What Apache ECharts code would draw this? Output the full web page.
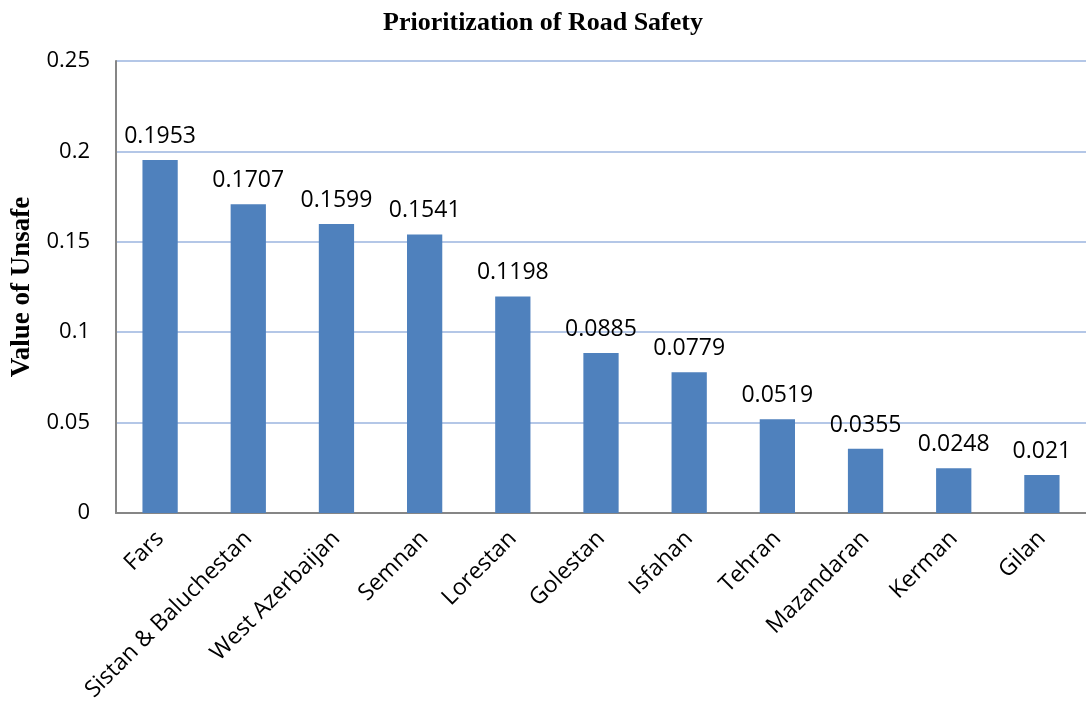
<!DOCTYPE html>
<html><head><meta charset="utf-8">
<script src="https://cdn.jsdelivr.net/npm/echarts@6/dist/echarts.min.js"></script>
<style>html,body{margin:0;padding:0;background:#fff}#c{width:1086px;height:707px}</style>
</head><body><div id="c"></div>
<script>
const categories = ['Fars','Sistan & Baluchestan','West Azerbaijan','Semnan','Lorestan','Golestan','Isfahan','Tehran','Mazandaran','Kerman','Gilan'];
const values = [0.1953,0.1707,0.1599,0.1541,0.1198,0.0885,0.0779,0.0519,0.0355,0.0248,0.021];
const yTicks = [0,0.05,0.1,0.15,0.2,0.25];
const chart = echarts.init(document.getElementById('c'));
chart.setOption({
  animation:false,
  title:{text:'Prioritization of Road Safety',left:'center',top:5,textStyle:{fontFamily:'Liberation Serif',fontWeight:'bold',fontSize:26,color:'#000'}},
  grid:{left:116,right:0,top:61,bottom:194},
  xAxis:{type:'category',data:categories,
    axisLine:{lineStyle:{color:'#868686',width:2}},axisTick:{show:false},
    axisLabel:{rotate:45,interval:0,margin:22,fontFamily:'Open Sans',fontSize:23,color:'#000'}},
  yAxis:{type:'value',min:0,max:0.25,interval:0.05,
    name:'Value of Unsafe',nameLocation:'middle',nameGap:78,nameRotate:90,
    nameTextStyle:{fontFamily:'Liberation Serif',fontWeight:'bold',fontSize:27,color:'#000'},
    axisLine:{show:true,lineStyle:{color:'#868686',width:2}},axisTick:{show:false},
    splitLine:{lineStyle:{color:'#B4C7E7',width:2}},
    axisLabel:{margin:26,fontFamily:'Open Sans',fontSize:22,color:'#000',formatter:v=>{const t=yTicks.find(x=>Math.abs(x-v)<1e-9);return String(t!==undefined?t:v);}}},
  series:[{type:'bar',data:values,barWidth:'40%',itemStyle:{color:'#4F81BD'},
    label:{show:true,position:'top',distance:12,fontFamily:'Open Sans',fontSize:23,color:'#000'}}]
});
</script></body></html>
